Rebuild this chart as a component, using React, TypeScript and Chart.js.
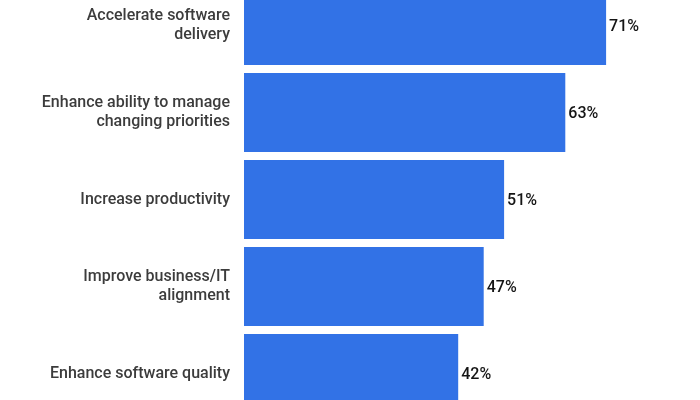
import React, { useEffect, useRef } from "react";
import { Chart, registerables } from "chart.js";

Chart.register(...registerables);

const categories: (string | string[])[] = [
  ["Accelerate software", "delivery"],
  ["Enhance ability to manage", "changing priorities"],
  "Increase productivity",
  ["Improve business/IT", "alignment"],
  "Enhance software quality",
];
const values: number[] = [71, 63, 51, 47, 42];
const valueLabels: string[] = ["71%", "63%", "51%", "47%", "42%"];

const barColor = "#3272E6";
const labelColor = "#3c3c3c";
const valueColor = "#151515";
const fontFamily = "Roboto, 'Noto Sans', sans-serif";

const valueLabelPlugin = {
  id: "valueLabels",
  afterDatasetsDraw(chart: any) {
    const ctx = chart.ctx;
    const meta = chart.getDatasetMeta(0);
    ctx.save();
    ctx.font = `500 16px ${fontFamily}`;
    ctx.fillStyle = valueColor;
    ctx.textAlign = "left";
    ctx.textBaseline = "middle";
    meta.data.forEach((bar: any, i: number) => {
      ctx.fillText(valueLabels[i], bar.x + 3, bar.y + 1);
    });
    ctx.restore();
  },
};

export default function App() {
  const ref = useRef<HTMLCanvasElement | null>(null);
  useEffect(() => {
    if (!ref.current) return;
    const chart = new Chart(ref.current, {
      type: "bar",
      data: {
        labels: categories,
        datasets: [
          {
            data: values,
            backgroundColor: barColor,
            borderWidth: 0,
            categoryPercentage: 1,
            barPercentage: 0.908,
          },
        ],
      },
      options: {
        indexAxis: "y",
        animation: false,
        responsive: true,
        maintainAspectRatio: false,
        layout: { padding: { left: 0, top: 0, bottom: 0, right: 48 } },
        plugins: {
          legend: { display: false },
          title: { display: false },
          tooltip: { enabled: false },
        },
        scales: {
          x: {
            display: false,
            min: 0,
            max: 80,
          },
          y: {
            grid: { display: false, drawTicks: false },
            border: { display: false },
            ticks: {
              padding: 14,
              color: labelColor,
              font: { family: fontFamily, size: 16, weight: "500", lineHeight: 1.19 },
            },
            afterFit(scale: any) {
              scale.width = 244;
              scale.paddingTop = 0;
              scale.paddingBottom = 0;
            },
          },
        },
      },
      plugins: [valueLabelPlugin],
    });
    return () => chart.destroy();
  }, []);

  return (
    <div
      style={{
        position: "fixed",
        left: 0,
        top: 0,
        width: 700,
        height: 400,
        overflow: "hidden",
        background: "#ffffff",
      }}
    >
      <div style={{ position: "absolute", left: 0, top: -18, width: 700, height: 435 }}>
        <canvas ref={ref} />
      </div>
    </div>
  );
}
